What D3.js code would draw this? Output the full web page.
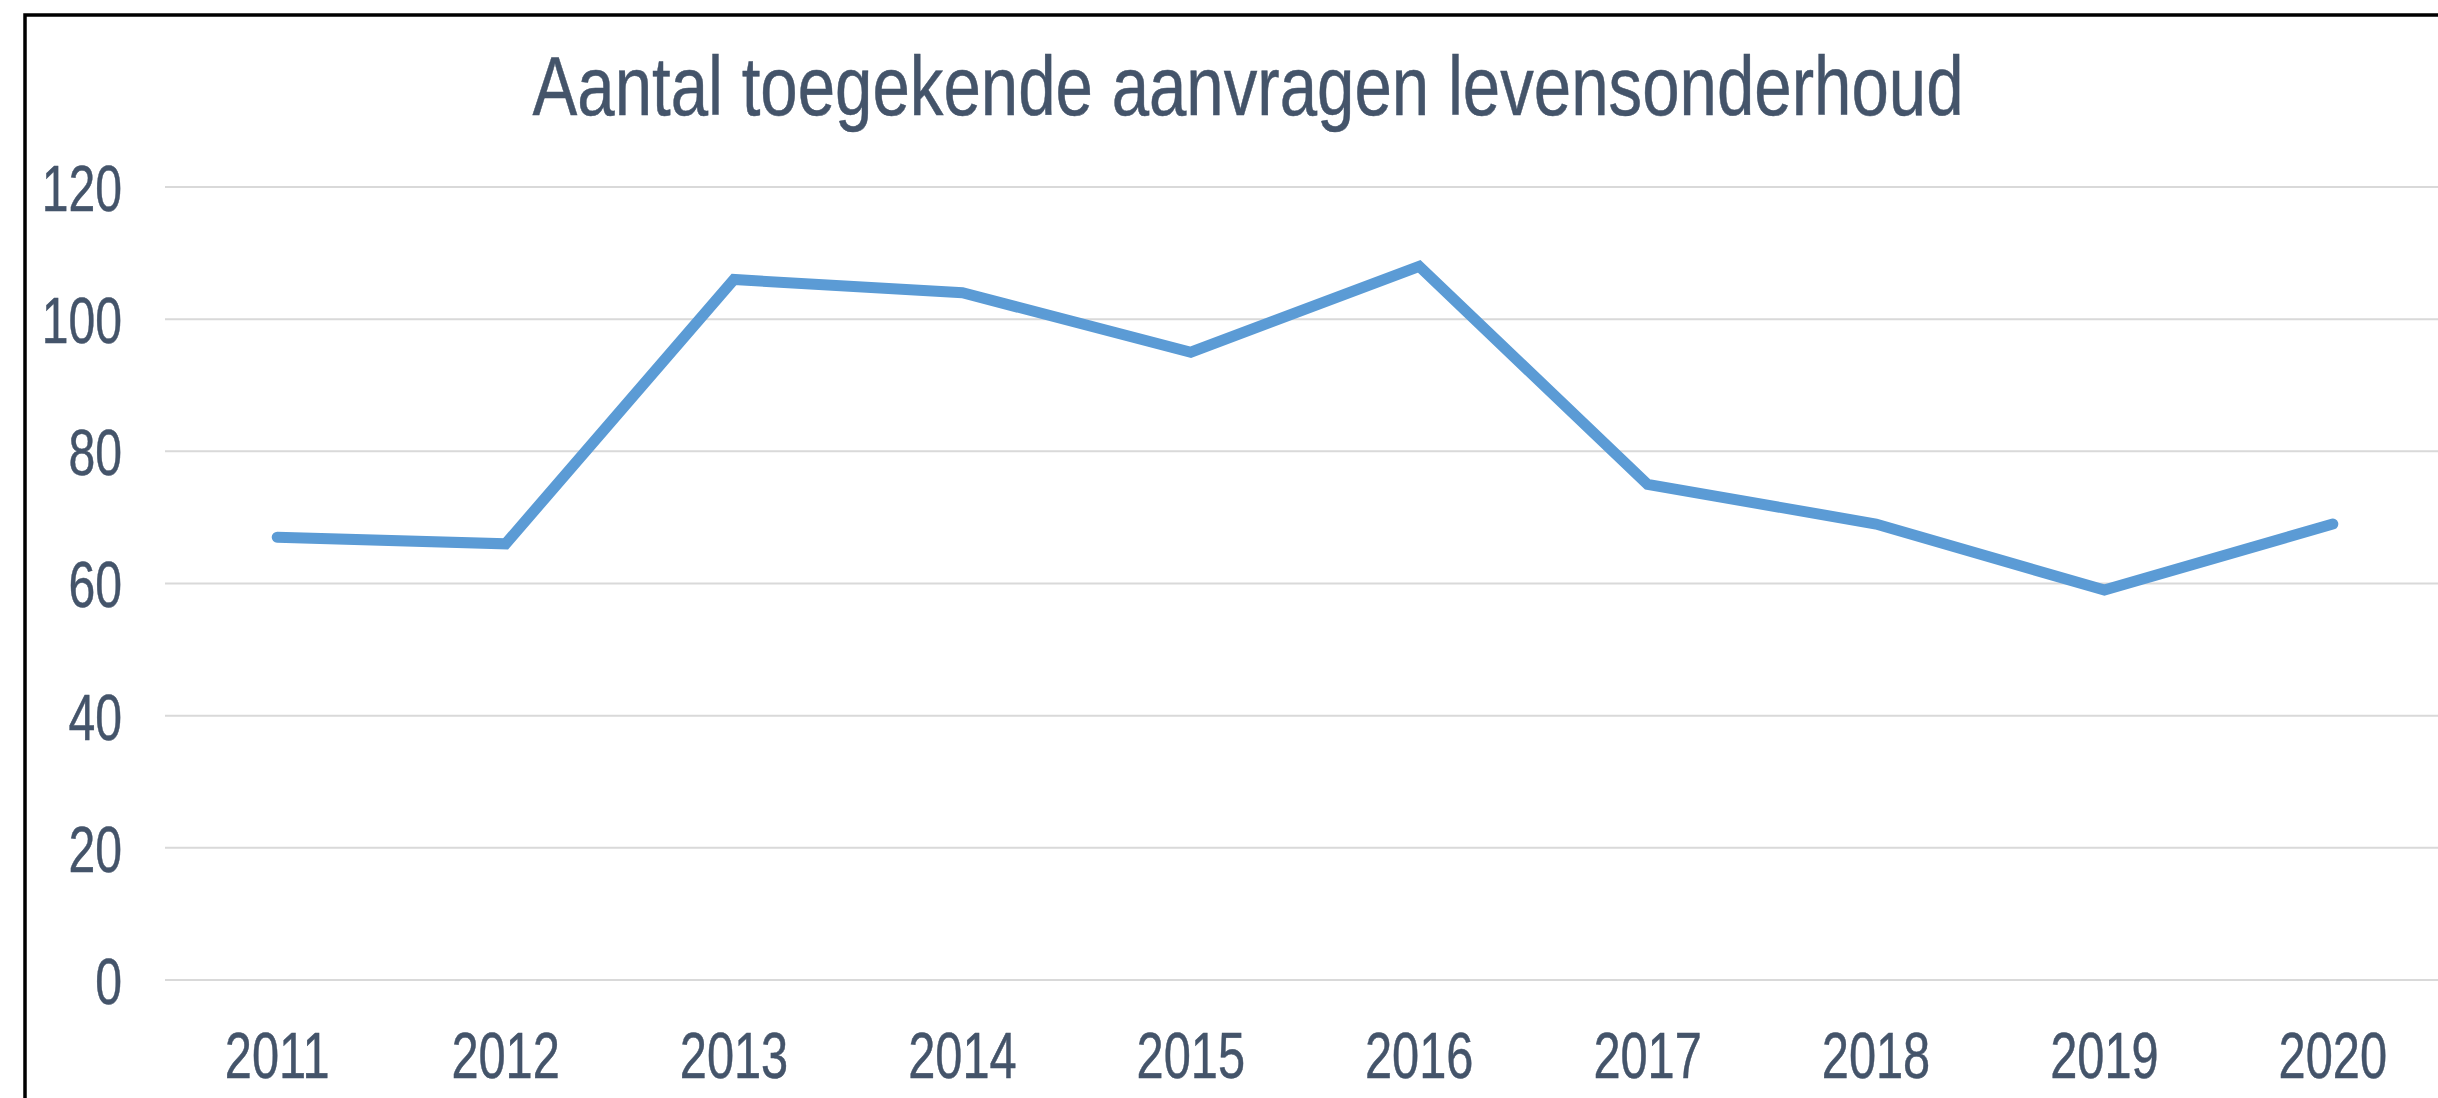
<!DOCTYPE html>
<html>
<head>
<meta charset="utf-8">
<script src="https://cdn.jsdelivr.net/npm/d3@7"></script>
<style>
	html, body { margin: 0; padding: 0; background: #fff; overflow: hidden; }
	svg { display: block; }
	text { font-family: "Liberation Sans", Arial, sans-serif; fill: #44546a; }
</style>
</head>
<body>
<div id="chart"></div>
<script>

var years = ["2011", "2012", "2013", "2014", "2015", "2016", "2017", "2018", "2019", "2020"];
var aanvragen = [67, 66, 106, 104, 95, 108, 75, 69, 59, 69];
var yTicks = [0, 20, 40, 60, 80, 100, 120];
var chartTitle = "Aantal toegekende aanvragen levensonderhoud";

var width = 2438,
	height = 1098;

var svg = d3.select("#chart")
	.append("svg")
	.attr("width", width)
	.attr("height", height);

// frame (right and bottom fall outside the picture)
svg.append("rect")
	.attr("x", 25)
	.attr("y", 15)
	.attr("width", width)
	.attr("height", height)
	.attr("fill", "#fff")
	.attr("stroke", "#000")
	.attr("stroke-width", 3.5);

var x = d3.scaleBand()
	.domain(years)
	.range([163, 2447]);

var y = d3.scaleLinear()
	.domain([0, 120])
	.range([980, 187]);

// narrow the glyphs, the source font is a condensed one
function squeeze(sel, ratio) {
	sel.each(function() {
		var w = this.getComputedTextLength();
		d3.select(this)
			.attr("textLength", w * ratio)
			.attr("lengthAdjust", "spacingAndGlyphs")
			.attr("stroke", "#44546a")
			.attr("stroke-width", 0.5);
	});
}

// gridlines
svg.append("g")
	.selectAll("line")
	.data(yTicks)
	.enter()
	.append("line")
	.attr("x1", 165)
	.attr("x2", width)
	.attr("y1", function(d) { return y(d); })
	.attr("y2", function(d) { return y(d); })
	.attr("stroke", "#d9d9d9")
	.attr("stroke-width", 2);

// y axis labels
var yAxis = d3.axisLeft(y)
	.tickValues(yTicks)
	.tickSize(0)
	.tickPadding(0);

var gy = svg.append("g")
	.attr("transform", "translate(122,0)")
	.call(yAxis);
gy.select(".domain").remove();
gy.selectAll("text")
	.attr("font-size", 65)
	.attr("dy", "0.36em")
	.attr("fill", "#44546a")
	.style("font-family", "'Liberation Sans', Arial, sans-serif")
	.call(squeeze, 0.74);

// x axis labels
var xAxis = d3.axisBottom(x)
	.tickSize(0)
	.tickPadding(0);

var gx = svg.append("g")
	.attr("transform", "translate(0,1078)")
	.call(xAxis);
gx.select(".domain").remove();
gx.selectAll("text")
	.attr("y", 0)
	.attr("dy", 0)
	.attr("font-size", 65)
	.attr("fill", "#44546a")
	.style("font-family", "'Liberation Sans', Arial, sans-serif")
	.call(squeeze, 0.75);

// line
var line = d3.line()
	.x(function(d, i) { return x(years[i]) + x.bandwidth() / 2; })
	.y(function(d) { return y(d); });

svg.append("path")
	.datum(aanvragen)
	.attr("d", line)
	.attr("fill", "none")
	.attr("stroke", "#5b9bd5")
	.attr("stroke-width", 11)
	.attr("stroke-linecap", "round")
	.attr("stroke-linejoin", "miter");

// title
svg.append("text")
	.attr("x", 1248)
	.attr("y", 115)
	.attr("text-anchor", "middle")
	.attr("font-size", 84)
	.text(chartTitle)
	.call(squeeze, 0.80);

</script>
</body>
</html>
